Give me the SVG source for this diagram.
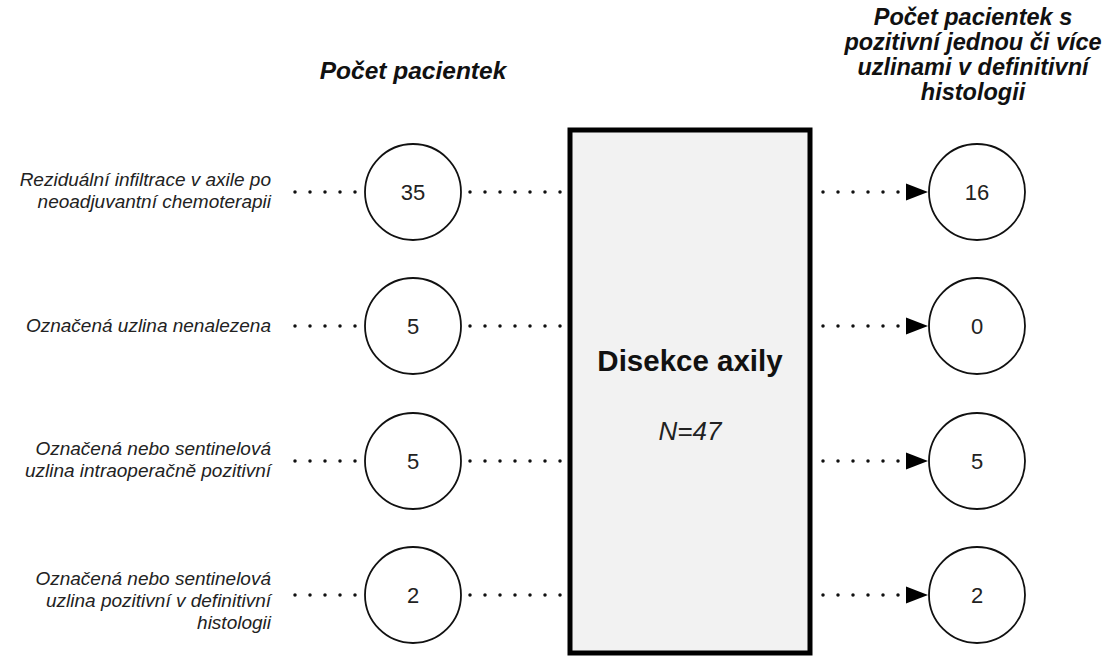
<svg xmlns="http://www.w3.org/2000/svg" width="1119" height="656" viewBox="0 0 1119 656">
<style>
.lbl{font-family:"Liberation Sans",Arial,sans-serif;font-style:italic;font-size:19px;fill:#222;text-anchor:end}
.hdr{font-family:"Liberation Sans",Arial,sans-serif;font-style:italic;font-weight:bold;font-size:24.5px;fill:#111;text-anchor:middle}
.hdr2{font-family:"Liberation Sans",Arial,sans-serif;font-style:italic;font-weight:bold;font-size:23.5px;fill:#111;text-anchor:middle}
.num{font-family:"Liberation Sans",Arial,sans-serif;font-size:22px;fill:#222;text-anchor:middle}
.circ{fill:#fff;stroke:#111;stroke-width:1.8}
.dot{stroke:#111;stroke-width:3.5;stroke-linecap:round;stroke-dasharray:0 15;fill:none}
</style>
<defs>
<marker id="arr" markerUnits="userSpaceOnUse" markerWidth="25" markerHeight="20" refX="23" refY="10" orient="auto">
<path d="M1,1.5 L23,10 L1,18.5 Z" fill="#000"/>
</marker>
</defs>
<rect width="1119" height="656" fill="#fff"/>

<text class="hdr" x="413" y="79">Počet pacientek</text>
<g id="hdr-right">
<text class="hdr2" x="973" y="25">Počet pacientek s</text>
<text class="hdr2" x="973" y="50">pozitivní jednou či více</text>
<text class="hdr2" x="973" y="75">uzlinami v definitivní</text>
<text class="hdr2" x="973" y="100">histologii</text>
</g>

<g id="box">
<rect x="570" y="130" width="240" height="523" fill="#f2f2f2" stroke="#000" stroke-width="5"/>
<text x="690" y="371" font-family="Liberation Sans,Arial,sans-serif" font-weight="bold" font-size="29.5" fill="#111" text-anchor="middle">Disekce axily</text>
<text x="690" y="440" font-family="Liberation Sans,Arial,sans-serif" font-style="italic" font-size="26" fill="#222" text-anchor="middle">N=47</text>
</g>

<g id="connectors">
<line class="dot" x1="295" y1="192" x2="356" y2="192"/>
<line class="dot" x1="470" y1="192" x2="561" y2="192"/>
<line class="dot" x1="823" y1="192" x2="899" y2="192"/>
<line x1="905" y1="192" x2="928" y2="192" stroke="none" marker-end="url(#arr)"/>

<line class="dot" x1="295" y1="326" x2="356" y2="326"/>
<line class="dot" x1="470" y1="326" x2="561" y2="326"/>
<line class="dot" x1="823" y1="326" x2="899" y2="326"/>
<line x1="905" y1="326" x2="928" y2="326" stroke="none" marker-end="url(#arr)"/>

<line class="dot" x1="295" y1="461" x2="356" y2="461"/>
<line class="dot" x1="470" y1="461" x2="561" y2="461"/>
<line class="dot" x1="823" y1="461" x2="899" y2="461"/>
<line x1="905" y1="461" x2="928" y2="461" stroke="none" marker-end="url(#arr)"/>

<line class="dot" x1="295" y1="595" x2="356" y2="595"/>
<line class="dot" x1="470" y1="595" x2="561" y2="595"/>
<line class="dot" x1="823" y1="595" x2="899" y2="595"/>
<line x1="905" y1="595" x2="928" y2="595" stroke="none" marker-end="url(#arr)"/>
</g>

<g id="row1">
<text class="lbl" x="271" y="186">Reziduální infiltrace v axile po</text>
<text class="lbl" x="271" y="208">neoadjuvantní chemoterapii</text>
<circle class="circ" cx="413" cy="192" r="48"/>
<text class="num" x="413" y="200">35</text>
<circle class="circ" cx="977" cy="192" r="48"/>
<text class="num" x="977" y="200">16</text>
</g>
<g id="row2">
<text class="lbl" x="271" y="332">Označená uzlina nenalezena</text>
<circle class="circ" cx="413" cy="326" r="48"/>
<text class="num" x="413" y="334">5</text>
<circle class="circ" cx="977" cy="326" r="48"/>
<text class="num" x="977" y="334">0</text>
</g>
<g id="row3">
<text class="lbl" x="271" y="455">Označená nebo sentinelová</text>
<text class="lbl" x="271" y="477">uzlina intraoperačně pozitivní</text>
<circle class="circ" cx="413" cy="461" r="48"/>
<text class="num" x="413" y="469">5</text>
<circle class="circ" cx="977" cy="461" r="48"/>
<text class="num" x="977" y="469">5</text>
</g>
<g id="row4">
<text class="lbl" x="271" y="585">Označená nebo sentinelová</text>
<text class="lbl" x="271" y="607">uzlina pozitivní v definitivní</text>
<text class="lbl" x="271" y="629">histologii</text>
<circle class="circ" cx="413" cy="595" r="48"/>
<text class="num" x="413" y="603">2</text>
<circle class="circ" cx="977" cy="595" r="48"/>
<text class="num" x="977" y="603">2</text>
</g>
</svg>
